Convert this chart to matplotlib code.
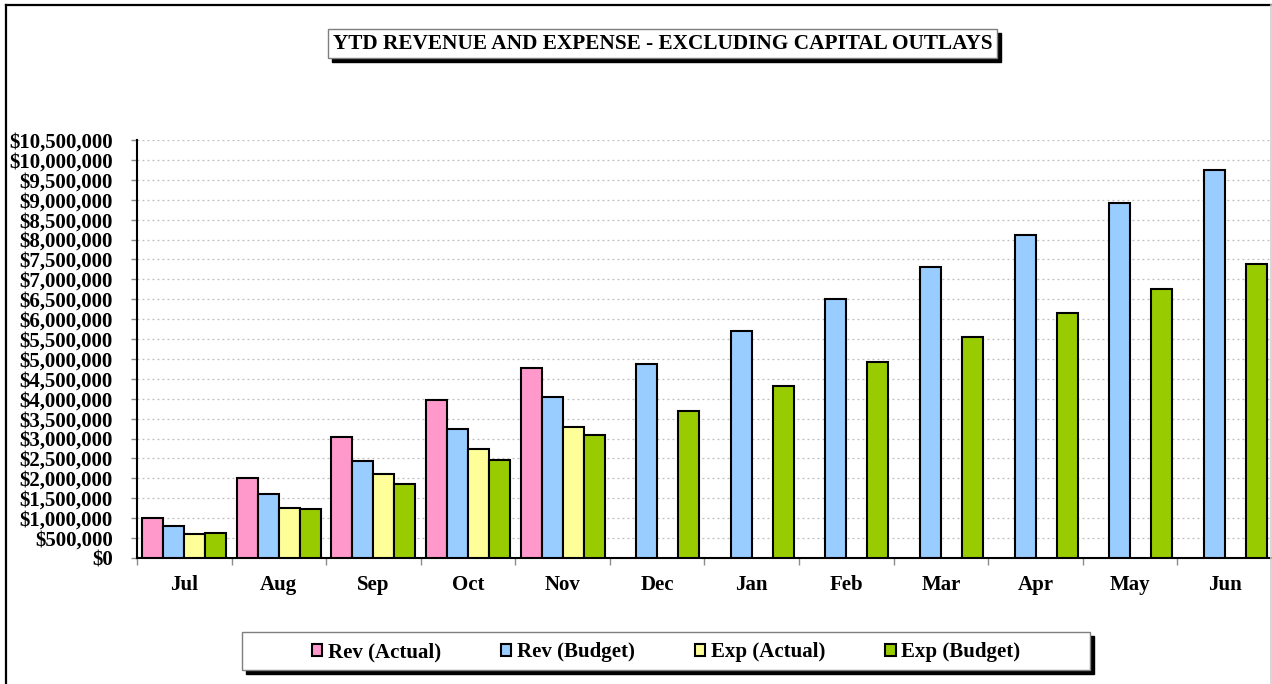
import numpy as np
import matplotlib
matplotlib.use("Agg")
import matplotlib.pyplot as plt
from matplotlib.patches import Rectangle
from matplotlib.lines import Line2D
from matplotlib.ticker import FuncFormatter, FixedLocator

# ── Data ──────────────────────────────────────────────────────────────────────
months = ["Jul", "Aug", "Sep", "Oct", "Nov", "Dec",
          "Jan", "Feb", "Mar", "Apr", "May", "Jun"]
rev_actual = [1000000, 2020000, 3050000, 3980000, 4780000,
              None, None, None, None, None, None, None]
rev_budget = [810000, 1620000, 2430000, 3250000, 4050000, 4880000,
              5690000, 6500000, 7310000, 8120000, 8930000, 9740000]
exp_actual = [600000, 1260000, 2100000, 2740000, 3280000,
              None, None, None, None, None, None, None]
exp_budget = [620000, 1230000, 1850000, 2460000, 3080000, 3700000,
              4310000, 4930000, 5540000, 6150000, 6760000, 7380000]
series_names = ["Rev (Actual)", "Rev (Budget)", "Exp (Actual)", "Exp (Budget)"]

# ── Palette ───────────────────────────────────────────────────────────────────
PINK   = "#FF99CC"
BLUE   = "#99CCFF"
YELLOW = "#FFFF99"
GREEN  = "#99CC00"
GRID   = "#BDBDBD"

plt.rcParams.update({
    "font.family": ["Liberation Serif", "DejaVu Serif"],
    "font.weight": "bold",
    "figure.facecolor": "white",
    "axes.facecolor": "white",
})

W, H = 1272, 684
fig = plt.figure(figsize=(W / 100, H / 100), dpi=100)


def px_box(x0, y0, x1, y1):
    """pixel box (top-left origin) -> figure fraction [l, b, w, h]"""
    return [x0 / W, 1 - y1 / H, (x1 - x0) / W, (y1 - y0) / H]


def framed_box(x0, y0, x1, y1, shadow=4):
    l, b, w, h = px_box(x0, y0, x1, y1)
    sx, sy = shadow / W, shadow / H
    fig.patches.append(Rectangle((l + sx, b - sy), w, h, transform=fig.transFigure,
                                 facecolor="black", edgecolor="black", zorder=1))
    fig.patches.append(Rectangle((l, b), w, h, transform=fig.transFigure,
                                 facecolor="white", edgecolor="#7F7F7F", lw=1.0, zorder=2))


# outer chart border (top / left dark, right light)
fig.lines.append(Line2D([6 / W, 6 / W], [0, 1 - 5 / H], transform=fig.transFigure,
                        color="black", lw=1.6))
fig.lines.append(Line2D([6 / W, 1], [1 - 5 / H, 1 - 5 / H], transform=fig.transFigure,
                        color="black", lw=1.6))
fig.lines.append(Line2D([1 - 1.5 / W, 1 - 1.5 / W], [0, 1 - 5 / H], transform=fig.transFigure,
                        color="#D0D0D0", lw=1.2))

# ── Plot area ────────────────────────────────────────────────────────────────
ax = fig.add_axes(px_box(137, 140, 1272, 558))
x = np.arange(len(months))
bw = 1 / 4.5
colors = [PINK, BLUE, YELLOW, GREEN]
all_series = [rev_actual, rev_budget, exp_actual, exp_budget]
for i, (vals, col, name) in enumerate(zip(all_series, colors, series_names)):
    vals = np.array([np.nan if v is None else v for v in vals], dtype=float)
    ax.bar(x + (i - 1.5) * bw, vals, width=bw, color=col, edgecolor="black",
           linewidth=1.5, label=name, zorder=3)

ax.set_xlim(-0.5, len(months) - 0.5)
ax.set_ylim(0, 10500000)
ax.set_yticks(np.arange(0, 10500001, 500000))
ax.yaxis.set_major_formatter(FuncFormatter(lambda v, p: f"${v:,.0f}"))
ax.yaxis.grid(True, color=GRID, linestyle=(0, (1.5, 2.5)), linewidth=0.9, zorder=0)
ax.set_axisbelow(True)

ax.set_xticks(x)
ax.set_xticklabels(months)
ax.xaxis.set_minor_locator(FixedLocator(np.arange(-0.5, len(months), 1.0)))
ax.tick_params(axis="x", which="major", length=0, pad=12.5, labelsize=15)
ax.tick_params(axis="x", which="minor", length=5, color="#8C8C8C", width=1)
ax.tick_params(axis="y", length=4.5, color="#8C8C8C", width=1, pad=13, labelsize=15)
for lab in ax.get_xticklabels() + ax.get_yticklabels():
    lab.set_fontweight("bold")

for side in ("top", "right"):
    ax.spines[side].set_visible(False)
ax.spines["left"].set_linewidth(1.5)
ax.spines["bottom"].set_linewidth(1.5)

# ── Title box ────────────────────────────────────────────────────────────────
framed_box(328, 29, 997, 58)
fig.text((328 + 997) / 2 / W, 1 - 44 / H,
         "YTD REVENUE AND EXPENSE - EXCLUDING CAPITAL OUTLAYS",
         ha="center", va="center", fontsize=15.3, fontweight="bold", zorder=5)

# ── Legend box ───────────────────────────────────────────────────────────────
framed_box(242, 632, 1090, 670)
handles, labels = ax.get_legend_handles_labels()
fig.legend(handles, labels, loc="center", ncol=4,
           bbox_to_anchor=((242 + 1090) / 2 / W, 1 - 652 / H),
           frameon=False, handlelength=0.5, handleheight=0.5,
           handletextpad=0.25, columnspacing=2.9,
           prop={"weight": "bold", "size": 15})

fig.savefig("out.png", dpi=100)
